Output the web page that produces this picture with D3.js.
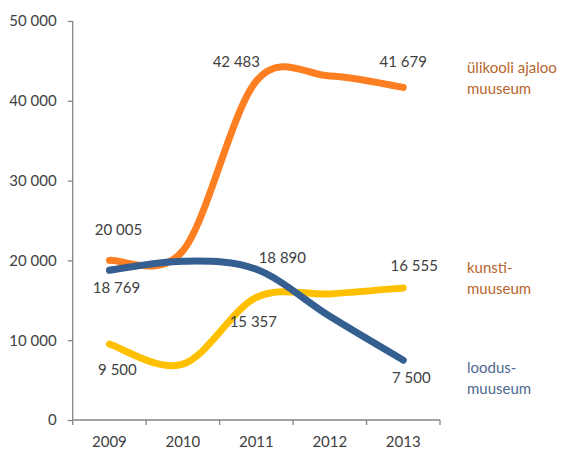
<!DOCTYPE html>
<html>
<head>
<meta charset="utf-8">
<script src="https://cdn.jsdelivr.net/npm/d3@7"></script>
<style>
  html, body { margin: 0; padding: 0; background: #fff; }
  svg { display: block; font-family: Lato, "Open Sans", sans-serif; }
</style>
</head>
<body>
<svg id="chart" width="563" height="449"></svg>
<script>
// Visitor numbers per museum, 2009–2013
const years = ["2009", "2010", "2011", "2012", "2013"];
const ylikool = [20005, 21200, 42483, 43100, 41679];
const kunsti = [9500, 7000, 15357, 15800, 16555];
const loodus = [18769, 19900, 18890, 13000, 7500];
const yTicks = [0, 10000, 20000, 30000, 40000, 50000];

// Labelled values: year index and offset of the label from its point
const ylikoolLabels = [{ i: 0, dx: 9, dy: -25 }, { i: 2, dx: -20, dy: -14 }, { i: 4, dx: 0, dy: -20 }];
const kunstiLabels = [{ i: 0, dx: 8, dy: 31 }, { i: 2, dx: -3, dy: 30 }, { i: 4, dx: 11, dy: -17 }];
const loodusLabels = [{ i: 0, dx: 7, dy: 23 }, { i: 2, dx: 26, dy: -6 }, { i: 4, dx: 8, dy: 23 }];

const series = [
  { name: ["ülikooli ajaloo", "muuseum"], values: ylikool, color: "#FD7F22", text: "#B8652E", labels: ylikoolLabels, legendY: 73 },
  { name: ["kunsti-", "muuseum"], values: kunsti, color: "#FFC000", text: "#B8652E", labels: kunstiLabels, legendY: 273 },
  { name: ["loodus-", "muuseum"], values: loodus, color: "#355E91", text: "#50698F", labels: loodusLabels, legendY: 373 }
];

// Smoothing curve: cubic Bezier through the points, handles of 1/6 of the
// neighbour span, each limited to half the length of its segment.
function SmoothCurve(context) { this._context = context; }
SmoothCurve.prototype = {
  areaStart() { this._line = 0; },
  areaEnd() { this._line = NaN; },
  lineStart() { this._pts = []; },
  point(x, y) { this._pts.push([+x, +y]); },
  lineEnd() {
    const p = this._pts, c = this._context, n = p.length;
    if (!n) return;
    c.moveTo(p[0][0], p[0][1]);
    const dist = (a, b) => Math.hypot(a[0] - b[0], a[1] - b[1]);
    for (let i = 0; i < n - 1; i++) {
      const p0 = p[Math.max(i - 1, 0)], p1 = p[i], p2 = p[i + 1], p3 = p[Math.min(i + 2, n - 1)];
      const d12 = dist(p1, p2), d02 = dist(p0, p2), d13 = dist(p1, p3);
      let f0 = 1 / 6, f1 = 1 / 6;
      if (d02 / 6 > d12 / 2 && d02 > 0) f0 = d12 / d02 / 2;
      if (d13 / 6 > d12 / 2 && d13 > 0) f1 = d12 / d13 / 2;
      const b1 = [p1[0] + (p2[0] - p0[0]) * f0, p1[1] + (p2[1] - p0[1]) * f0];
      const b2 = [p2[0] - (p3[0] - p1[0]) * f1, p2[1] - (p3[1] - p1[1]) * f1];
      c.bezierCurveTo(b1[0], b1[1], b2[0], b2[1], p2[0], p2[1]);
    }
  }
};
const curveSmooth = context => new SmoothCurve(context);

const svg = d3.select("#chart");
const margin = { left: 72.7, right: 440, top: 21, bottom: 420 };

const x = d3.scaleBand().domain(years).range([margin.left, margin.right]);
const y = d3.scaleLinear().domain([0, 50000]).range([margin.bottom, margin.top]);
const cx = d => x(d) + x.bandwidth() / 2;

const fmt = v => d3.format(",")(v).replace(/,/g, " ");
const axisColor = "#868686";
const textColor = "#404040";

// Y axis
const yAxis = svg.append("g")
  .attr("transform", `translate(${margin.left},0)`)
  .call(d3.axisLeft(y).tickValues(yTicks).tickSize(5).tickPadding(11).tickFormat(fmt));
yAxis.select(".domain").attr("stroke", axisColor).attr("stroke-width", 1.3).attr("d", `M0,${margin.top}V${margin.bottom}`);
yAxis.selectAll(".tick line").attr("stroke", axisColor).attr("stroke-width", 1.3);
yAxis.selectAll(".tick text").attr("fill", textColor).style("font-size", "15px").style("font-family", "Lato, sans-serif");

// X axis: ticks sit between categories
const xAxisG = svg.append("g").attr("transform", `translate(0,${margin.bottom})`);
xAxisG.append("line")
  .attr("x1", margin.left).attr("x2", margin.right)
  .attr("stroke", axisColor).attr("stroke-width", 1.3);
const bounds = years.map(d => x(d)).concat([margin.right]);
xAxisG.selectAll("line.tick").data(bounds).enter().append("line")
  .attr("class", "tick")
  .attr("x1", d => d).attr("x2", d => d).attr("y1", 0).attr("y2", 5)
  .attr("stroke", axisColor).attr("stroke-width", 1.3);
xAxisG.selectAll("text").data(years).enter().append("text")
  .attr("x", d => cx(d)).attr("y", 27)
  .attr("text-anchor", "middle")
  .attr("fill", textColor).style("font-size", "15px")
  .text(d => d);

// Smoothed lines
const line = d3.line()
  .x((d, i) => cx(years[i]))
  .y(d => y(d))
  .curve(curveSmooth);

svg.append("g").selectAll("path").data(series).enter().append("path")
  .attr("d", s => line(s.values))
  .attr("fill", "none")
  .attr("stroke", s => s.color)
  .attr("stroke-width", 7)
  .attr("stroke-linecap", "round")
  .attr("stroke-linejoin", "round");

// Value labels
series.forEach(s => {
  svg.append("g").selectAll("text").data(s.labels).enter().append("text")
    .attr("x", d => cx(years[d.i]) + d.dx)
    .attr("y", d => y(s.values[d.i]) + d.dy)
    .attr("text-anchor", "middle")
    .attr("fill", textColor)
    .style("font-size", "15px")
    .text(d => fmt(s.values[d.i]));
});

// Series names to the right of the plot
series.forEach(s => {
  const t = svg.append("text")
    .attr("x", 467).attr("y", s.legendY)
    .attr("fill", s.text)
    .style("font-size", "15px");
  s.name.forEach((n, k) => {
    t.append("tspan").attr("x", 467).attr("dy", k === 0 ? 0 : 20.5).text(n);
  });
});
</script>
</body>
</html>
